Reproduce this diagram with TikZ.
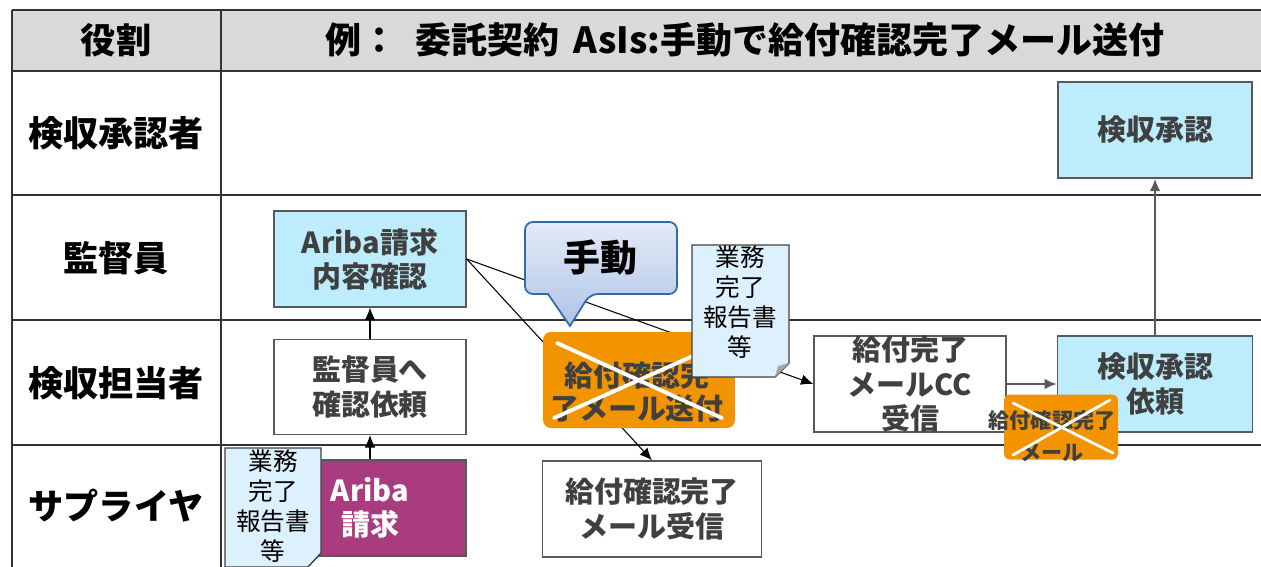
\documentclass[tikz,border=0pt]{standalone}
\usepackage{fontspec}
\setmainfont{Noto Sans CJK JP}
\usetikzlibrary{arrows.meta}
\definecolor{hdrgray}{HTML}{D9D9D9}
\definecolor{tblline}{HTML}{333333}
\definecolor{boxcyan}{HTML}{BDEDFC}
\definecolor{docblue}{HTML}{DDF0FD}
\definecolor{aribared}{HTML}{A93C7E}
\definecolor{mailorange}{HTML}{F29400}
\definecolor{txtgray}{HTML}{404040}
\definecolor{linegray}{HTML}{595959}
\definecolor{callblue}{HTML}{2E6DA4}
\definecolor{callhi}{HTML}{E3EAF7}
\definecolor{calllo}{HTML}{AFC4E8}

\begin{document}
\begin{tikzpicture}[x=0.02cm,y=-0.02cm,
  grid/.style={line width=1.4pt,tblline},
  lane/.style={inner sep=0pt,font=\fontsize{20}{24}\selectfont\bfseries},
  task/.style={draw=linegray,line width=0.8pt,minimum width=3.84cm,minimum height=1.92cm,
    inner sep=0pt,align=center,text=txtgray,font=\fontsize{16.5}{19.5}\selectfont\bfseries},
  doctext/.style={inner sep=0pt,align=center,font=\fontsize{14}{17}\selectfont},
  docpage/.style={draw=txtgray,line width=0.8pt,fill=docblue},
  cross/.style={white,line width=2.2pt,line cap=round},
  flow/.style={-{Latex[length=7pt,width=6pt]},line width=0.6pt}]

  \useasboundingbox (0,0) rectangle (1261,566);

  % table
  \fill[hdrgray] (12,10) rectangle (1262,71);
  \draw[grid] (12,10) --(1262,10);
  \draw[grid] (12,71) --(1262,71);
  \draw[grid] (12,195) --(1262,195);
  \draw[grid] (12,320) --(1262,320);
  \draw[grid] (12,445) --(1262,445);
  \draw[grid] (12,10) --(12,567);
  \draw[grid] (221,10) --(221,567);

  \path (116,40) node[lane] (nrole) {役割};
  \path (745,40) node[lane,font=\fontsize{20.5}{24}\selectfont\bfseries] (ntitle) {例：\hspace{0.5em}委託契約\hspace{0.4em}AsIs:手動で給付確認完了メール送付};
  \path (116,133) node[lane] (nlane1) {検収承認者};
  \path (116,258) node[lane] (nlane2) {監督員};
  \path (116,383) node[lane] (nlane3) {検収担当者};
  \path (116,506) node[lane] (nlane4) {サプライヤ};

  % boxes
  \path (1155,130) node[task,fill=boxcyan,minimum width=3.88cm] (nappr) {検収承認};
  \path (370,259) node[task,fill=boxcyan] (ncheck) {Ariba請求\\内容確認};
  \path (370,387) node[task,fill=white,minimum height=1.9cm] (nreq) {監督員へ\\確認依頼};
  \path (370,508) node[task,fill=aribared,text=white] (nariba) {Ariba\\請求};
  \path (652,509) node[task,fill=white,minimum width=4.38cm] (nrecv) {給付確認完了\\メール受信};
  \path (910,384) node[task,fill=white] (ncc) {給付完了\\メールCC\\受信};
  \path (1155,384) node[task,fill=boxcyan,minimum width=3.9cm] (nappreq) {検収承認\\依頼};

  % arrows
  \draw[flow] (nreq.north) --(ncheck.south);
  \draw[flow] (nariba.north) --(nreq.south);
  \draw[flow] (ncheck.east) --(ncc.west);
  \draw[flow] (ncheck.east) --(nrecv.north);
  \draw[flow,linegray,line width=1.2pt] (ncc.east) --(nappreq.west);
  \draw[flow,linegray,line width=1.2pt] (nappreq.north) --(nappr.south);

  % manual mail
  \path (639,380) node[fill=mailorange,rounded corners=4.5pt,minimum width=3.84cm,minimum height=1.92cm] (nsend) {};
  \path (637,392) node[inner sep=0pt,align=center,text=txtgray,font=\fontsize{16.5}{19}\selectfont\bfseries] (nsendtxt) {給付確認完\\了メール送付};
  \draw[cross] (557,343) --(722,418);
  \draw[cross] (554,418) --(722,343);

  \path[draw=callblue,line width=1pt,top color=callhi,bottom color=calllo,rounded corners=4.5pt]
    (525,222) --(677,222) --(677,294) --(590,294) [sharp corners] --(570,326) --(548,294)
    [rounded corners=4.5pt] --(525,294) --cycle;
  \path (600,258) node[inner sep=0pt,font=\fontsize{21}{24}\selectfont\bfseries] (nmanual) {手動};

  % reports
  \draw[docpage] (692,245) --(789,245) --(789,363) --(775,377) --(692,377) --cycle;
  \fill[black!35] (789,363) --(775,377) --(778,366) --cycle;
  \path (740,302) node[doctext] (ndoc1) {業務\\完了\\報告書\\等};

  \draw[docpage] (225,448) --(321,448) --(321,553) --(308,567) --(225,567) --cycle;
  \path (273,506) node[doctext] (ndoc2) {業務\\完了\\報告書\\等};

  \path (1061,427) node[fill=mailorange,rounded corners=3pt,minimum width=2.28cm,minimum height=1.3cm] (nmail) {};
  \path (1052,436) node[inner sep=0pt,align=center,text=txtgray,font=\fontsize{12}{18}\selectfont\bfseries] (nmailtxt) {給付確認完了\\メール};
  \draw[cross,line width=1.6pt] (1013,403) --(1113,453);
  \draw[cross,line width=1.6pt] (1013,455) --(1110,400);

\end{tikzpicture}
\end{document}
